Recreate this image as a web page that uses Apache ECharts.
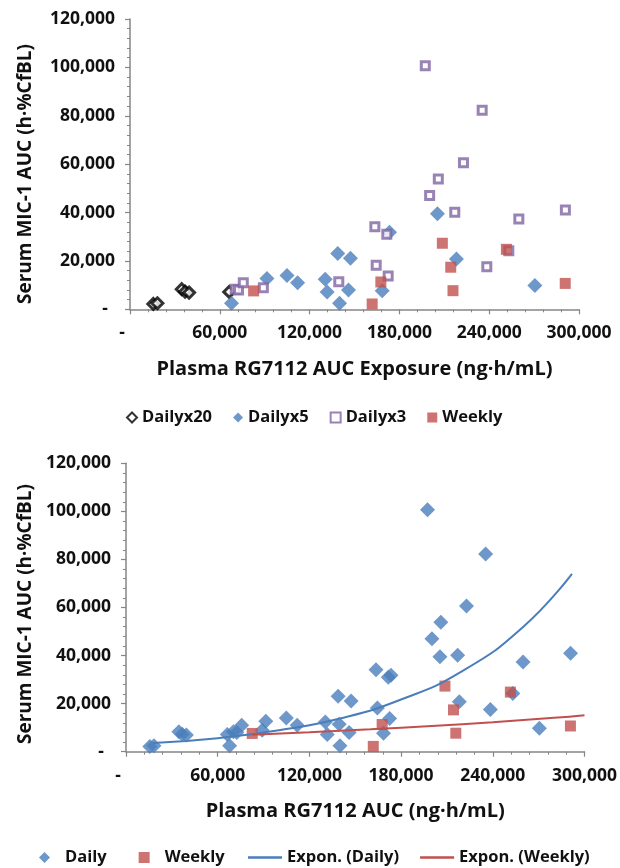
<!DOCTYPE html>
<html><head><meta charset="utf-8">
<script src="https://cdn.jsdelivr.net/npm/echarts@6/dist/echarts.min.js"></script>
<style>html,body{margin:0;padding:0;background:#fff}#c{width:620px;height:868px}</style>
</head><body><div id="c"></div>
<script>
// ---- axis ticks ----
const xTicks = [0, 60000, 120000, 180000, 240000, 300000];
const yTicks = [0, 20000, 40000, 60000, 80000, 100000, 120000];

// ---- top chart series (x: plasma RG7112 AUC, y: serum MIC-1 AUC) ----
const dailyx20X = [15600, 18300, 34600, 36800, 39500, 66300];
const dailyx20Y = [2200, 2500, 8300, 7300, 6900, 7200];

const dailyx5X = [67800, 91500, 104900, 112000, 130400, 131700, 138800, 140000, 146000, 147300, 168500, 173400, 205400, 218100, 270500];
const dailyx5Y = [2500, 12700, 14000, 11000, 12400, 7200, 23100, 2500, 8000, 21100, 7700, 31800, 39500, 20800, 9800];

const dailyx3X = [70300, 72500, 75700, 89100, 139500, 163600, 164500, 171600, 172500, 197300, 200200, 206000, 217000, 222800, 235300, 238400, 253100, 259800, 290900];
const dailyx3Y = [8300, 8000, 11000, 8900, 11400, 34100, 18200, 31000, 13800, 100700, 47000, 53900, 40100, 60600, 82300, 17600, 24200, 37300, 41000];

const weeklyX = [82600, 161800, 167600, 208700, 214300, 215800, 251500, 290800];
const weeklyY = [7600, 2200, 11300, 27300, 17400, 7700, 24800, 10700];

// ---- exponential trendlines ----
const dailyTrendX = [17800, 60000, 100000, 140000, 180000, 220000, 260000, 291800];
const dailyTrendY = [3600, 5600, 8900, 13800, 21700, 33500, 52000, 74000];
const weeklyTrendX = [82600, 120000, 160000, 200000, 240000, 280000, 300000];
const weeklyTrendY = [7100, 8100, 9300, 10700, 12300, 14100, 15200];

const yTitle = 'Serum MIC-1 AUC (h·%CfBL)';

const zip = (xs, ys) => xs.map((x, i) => [x, ys[i]]);
const dailyAll = zip(dailyx20X, dailyx20Y).concat(zip(dailyx5X, dailyx5Y), zip(dailyx3X, dailyx3Y));

const FONT = '"Open Sans", "DejaVu Sans", sans-serif';
const BLUE = '#4A7EBB', RED = '#C0504D', PURPLE = '#8064A2';
const TXT = '#111';
const fmt = v => v === 0 ? '{d|-}' : v.toLocaleString('en-US');

function xAxis(gridIndex, name) {
  return {
    type: 'value', gridIndex, min: xTicks[0], max: xTicks[xTicks.length - 1], interval: xTicks[1] - xTicks[0],
    name, nameLocation: 'middle', nameGap: 50,
    nameTextStyle: { fontFamily: FONT, fontSize: 20, fontWeight: 'bold', color: TXT },
    axisLine: { show: true, onZero: false, lineStyle: { color: '#868686', width: 1.5 } },
    axisTick: { show: true, inside: false, length: 5, lineStyle: { color: '#868686', width: 1.2 } },
    minorTick: { show: true, splitNumber: 5, length: 3, lineStyle: { color: '#868686', width: 1 } },
    splitLine: { show: false },
    axisLabel: { margin: 15, fontFamily: FONT, fontSize: 17.5, fontWeight: 'bold', color: TXT, formatter: fmt,
      rich: { d: { fontFamily: FONT, fontSize: 17.5, fontWeight: 'bold', color: TXT, padding: [0, 16, 0, 0] } } }
  };
}
function yAxis(gridIndex) {
  return {
    type: 'value', gridIndex, min: yTicks[0], max: yTicks[yTicks.length - 1], interval: yTicks[1] - yTicks[0],
    axisLine: { show: true, onZero: false, lineStyle: { color: '#868686', width: 1.5 } },
    axisTick: { show: true, inside: false, length: 5, lineStyle: { color: '#868686', width: 1.2 } },
    minorTick: { show: true, splitNumber: 5, length: 3, lineStyle: { color: '#868686', width: 1 } },
    splitLine: { show: false },
    axisLabel: { margin: 15, fontFamily: FONT, fontSize: 17.5, fontWeight: 'bold', color: TXT, formatter: fmt,
      rich: { d: { fontFamily: FONT, fontSize: 17.5, fontWeight: 'bold', color: TXT, padding: [0, 7, 0, 0] } } }
  };
}
function yTitleText(x, y) {
  return { type: 'text', x, y, rotation: Math.PI / 2,
    style: { text: yTitle, fontFamily: FONT, fontSize: 19, fontWeight: 'bold', fill: TXT, align: 'center', verticalAlign: 'middle' } };
}

const legText = { fontFamily: FONT, fontSize: 16.5, fontWeight: 'bold', color: TXT };

const chart = echarts.init(document.getElementById('c'), null, { renderer: 'canvas' });
chart.setOption({
  backgroundColor: '#fff',
  animation: false,
  grid: [
    { left: 130, top: 19, width: 449, height: 290.3 },
    { left: 126, top: 463.3, width: 460, height: 288.4 }
  ],
  xAxis: [xAxis(0, 'Plasma RG7112 AUC Exposure (ng·h/mL)'), xAxis(1, 'Plasma RG7112 AUC (ng·h/mL)')],
  yAxis: [yAxis(0), yAxis(1)],
  graphic: [yTitleText(26, 174), yTitleText(26, 614)],
  legend: [
    {
      top: 409, left: 126, padding: 0, itemWidth: 10, itemHeight: 10, itemGap: 21,
      textStyle: legText,
      data: ['Dailyx20', 'Dailyx5', 'Dailyx3', 'Weekly']
    },
    {
      top: 849, left: 39, padding: 0, itemWidth: 11, itemHeight: 11, itemGap: 32,
      textStyle: Object.assign({ padding: [0, 0, 0, 10] }, legText),
      data: ['Daily', 'Weekly ']
    },
    {
      top: 849, left: 248, padding: 0, itemWidth: 34, itemHeight: 2.5, itemGap: 21,
      textStyle: legText,
      data: [{ name: 'Expon. (Daily)', icon: 'rect' }, { name: 'Expon. (Weekly)', icon: 'rect' }]
    }
  ],
  series: [
    { name: 'Dailyx20', type: 'scatter', xAxisIndex: 0, yAxisIndex: 0, symbol: 'diamond', symbolSize: 11,
      itemStyle: { color: '#fff', borderColor: '#000', borderWidth: 3 }, data: zip(dailyx20X, dailyx20Y) },
    { name: 'Dailyx5', type: 'scatter', xAxisIndex: 0, yAxisIndex: 0, symbol: 'diamond', symbolSize: 15,
      itemStyle: { color: BLUE }, data: zip(dailyx5X, dailyx5Y) },
    { name: 'Dailyx3', type: 'scatter', xAxisIndex: 0, yAxisIndex: 0, symbol: 'rect', symbolSize: 8,
      itemStyle: { color: '#fff', borderColor: PURPLE, borderWidth: 3 }, data: zip(dailyx3X, dailyx3Y) },
    { name: 'Weekly', type: 'scatter', xAxisIndex: 0, yAxisIndex: 0, symbol: 'rect', symbolSize: 11,
      itemStyle: { color: RED }, data: zip(weeklyX, weeklyY) },

    { name: 'Daily', type: 'scatter', xAxisIndex: 1, yAxisIndex: 1, symbol: 'diamond', symbolSize: 15,
      itemStyle: { color: BLUE }, data: dailyAll },
    { name: 'Weekly ', type: 'scatter', xAxisIndex: 1, yAxisIndex: 1, symbol: 'rect', symbolSize: 11,
      itemStyle: { color: RED }, data: zip(weeklyX, weeklyY) },
    { name: 'Expon. (Daily)', type: 'line', xAxisIndex: 1, yAxisIndex: 1, symbol: 'none', smooth: true, z: 5,
      lineStyle: { color: BLUE, width: 2 }, itemStyle: { color: BLUE }, data: zip(dailyTrendX, dailyTrendY) },
    { name: 'Expon. (Weekly)', type: 'line', xAxisIndex: 1, yAxisIndex: 1, symbol: 'none', smooth: true, z: 5,
      lineStyle: { color: RED, width: 2 }, itemStyle: { color: RED }, data: zip(weeklyTrendX, weeklyTrendY) }
  ]
});
</script></body></html>
